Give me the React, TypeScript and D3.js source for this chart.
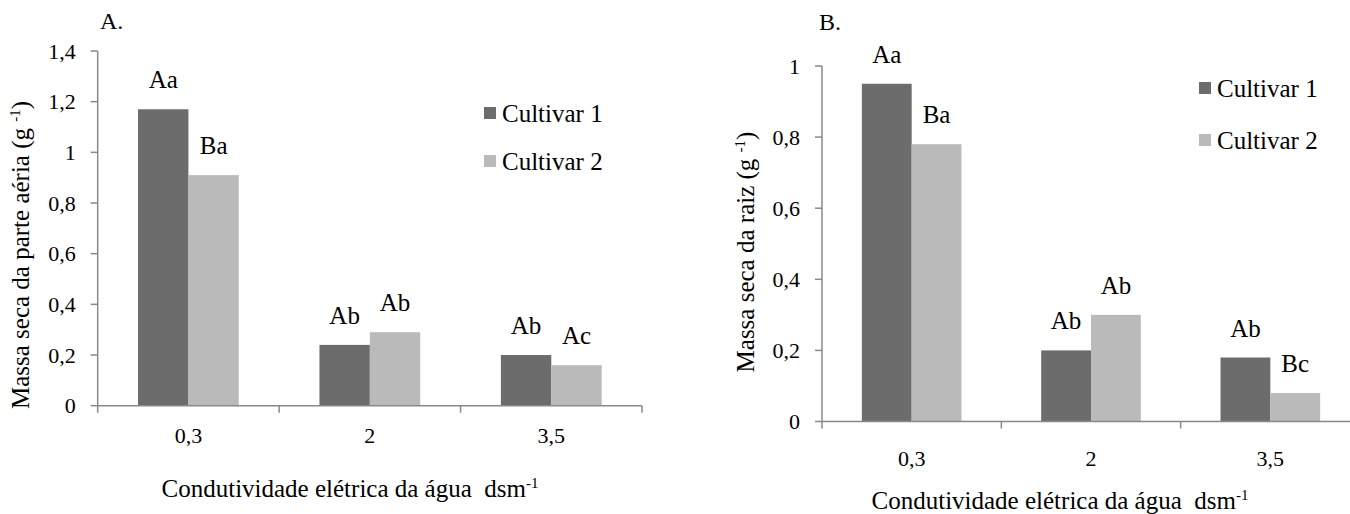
import * as d3 from "d3";

const categories = ["0,3", "2", "3,5"];
const seriesNames = ["Cultivar 1", "Cultivar 2"];

// A. parte aérea
const shootCultivar1 = [1.17, 0.24, 0.2];
const shootCultivar2 = [0.91, 0.29, 0.16];
const shootLetters1 = ["Aa", "Ab", "Ab"];
const shootLetters2 = ["Ba", "Ab", "Ac"];
const shootTicks = [0, 0.2, 0.4, 0.6, 0.8, 1, 1.2, 1.4];

// B. raiz
const rootCultivar1 = [0.95, 0.2, 0.18];
const rootCultivar2 = [0.78, 0.3, 0.08];
const rootLetters1 = ["Aa", "Ab", "Ab"];
const rootLetters2 = ["Ba", "Ab", "Bc"];
const rootTicks = [0, 0.2, 0.4, 0.6, 0.8, 1];

const xTitle = "Condutividade elétrica da água\u00a0\u00a0dsm";
const colors = ["#6c6c6c", "#bababa"];
const axisColor = "#898989";
const FONT = "Liberation Serif";

const panels = [
  {
    tag: "A.", c1: shootCultivar1, c2: shootCultivar2, l1: shootLetters1, l2: shootLetters2,
    ticks: shootTicks, yTitle: "Massa seca da parte aéria (g\u00a0",
    left: 97.7, right: 642, top: 51, bottom: 405.7,
    tagX: 100, tagY: 29, yTitleX: 29, yTitleY: 255, xTitleX: 350, xTitleY: 497,
    legendX: 484, legendY: [113, 161], xLabelY: 443,
  },
  {
    tag: "B.", c1: rootCultivar1, c2: rootCultivar2, l1: rootLetters1, l2: rootLetters2,
    ticks: rootTicks, yTitle: "Massa seca da raiz (g\u00a0",
    left: 822, right: 1360, top: 66, bottom: 421.5,
    tagX: 819, tagY: 30, yTitleX: 754, yTitleY: 252, xTitleX: 1060, xTitleY: 509,
    legendX: 1199, legendY: [88, 140], xLabelY: 466,
  },
];

const fmt = (d: number) => String(d).replace(".", ",");
const txt = { fontFamily: FONT, fill: "#000" };

function Panel({ p }: { p: (typeof panels)[number] }) {
  const x = d3.scaleBand().domain(categories).range([p.left, p.right]);
  const inner = d3.scaleBand().domain(seriesNames).range([0, x.bandwidth()]).paddingOuter(0.8);
  const y = d3.scaleLinear().domain([0, p.ticks[p.ticks.length - 1]]).range([p.bottom, p.top]);
  const bounds = [...categories.map((c) => x(c)!), x.range()[1]];
  const series = [p.c1, p.c2];
  const letters = [p.l1, p.l2];

  return (
    <g>
      {/* bars */}
      {categories.map((c, i) =>
        series.map((s, k) => (
          <rect key={c + k} x={x(c)! + inner(seriesNames[k])!} width={inner.bandwidth()}
            y={y(s[i])} height={y(0) - y(s[i])} fill={colors[k]} />
        ))
      )}
      {categories.map((c, i) =>
        letters.map((l, k) => (
          <text key={"l" + c + k} x={x(c)! + inner(seriesNames[k])! + inner.bandwidth() / 2}
            y={y(series[k][i]) - 21} textAnchor="middle" fontSize={25} style={txt}>{l[i]}</text>
        ))
      )}

      {/* y axis */}
      <line x1={p.left} x2={p.left} y1={y(0)} y2={y(p.ticks[p.ticks.length - 1])} stroke={axisColor} strokeWidth={1.5} />
      {p.ticks.map((t) => (
        <g key={t}>
          <line x1={p.left - 7} x2={p.left} y1={y(t)} y2={y(t)} stroke={axisColor} strokeWidth={1.5} />
          <text x={p.left - 22} y={y(t)} dy="0.35em" textAnchor="end" fontSize={22} style={txt}>{fmt(t)}</text>
        </g>
      ))}

      {/* x axis */}
      <line x1={x.range()[0]} x2={x.range()[1]} y1={y(0)} y2={y(0)} stroke={axisColor} strokeWidth={1.5} />
      {bounds.map((b, i) => (
        <line key={i} x1={b} x2={b} y1={y(0)} y2={y(0) + 7} stroke={axisColor} strokeWidth={1.5} />
      ))}
      {categories.map((c) => (
        <text key={c} x={x(c)! + x.bandwidth() / 2} y={p.xLabelY} textAnchor="middle" fontSize={22} style={txt}>{c}</text>
      ))}

      {/* titles */}
      <text x={p.tagX} y={p.tagY} fontSize={24} style={txt}>{p.tag}</text>
      <text transform={`translate(${p.yTitleX},${p.yTitleY}) rotate(-90)`} textAnchor="middle" fontSize={25} style={txt}>
        <tspan>{p.yTitle}</tspan>
        <tspan fontSize={15} dy={-9}>-1</tspan>
        <tspan dy={9}>)</tspan>
      </text>
      <text x={p.xTitleX} y={p.xTitleY} textAnchor="middle" fontSize={25} style={txt}>
        <tspan>{xTitle}</tspan>
        <tspan fontSize={15} dy={-9}>-1</tspan>
      </text>

      {/* legend */}
      {seriesNames.map((s, k) => (
        <g key={s}>
          <rect x={p.legendX} y={p.legendY[k] - 6} width={12} height={12} fill={colors[k]} />
          <text x={p.legendX + 18} y={p.legendY[k]} dy="0.35em" fontSize={25} style={txt}>{s}</text>
        </g>
      ))}
    </g>
  );
}

export default function App() {
  return (
    <svg width={1350} height={514} style={{ position: "absolute", left: 0, top: 0, background: "#fff" }}>
      {panels.map((p) => <Panel key={p.tag} p={p} />)}
    </svg>
  );
}
